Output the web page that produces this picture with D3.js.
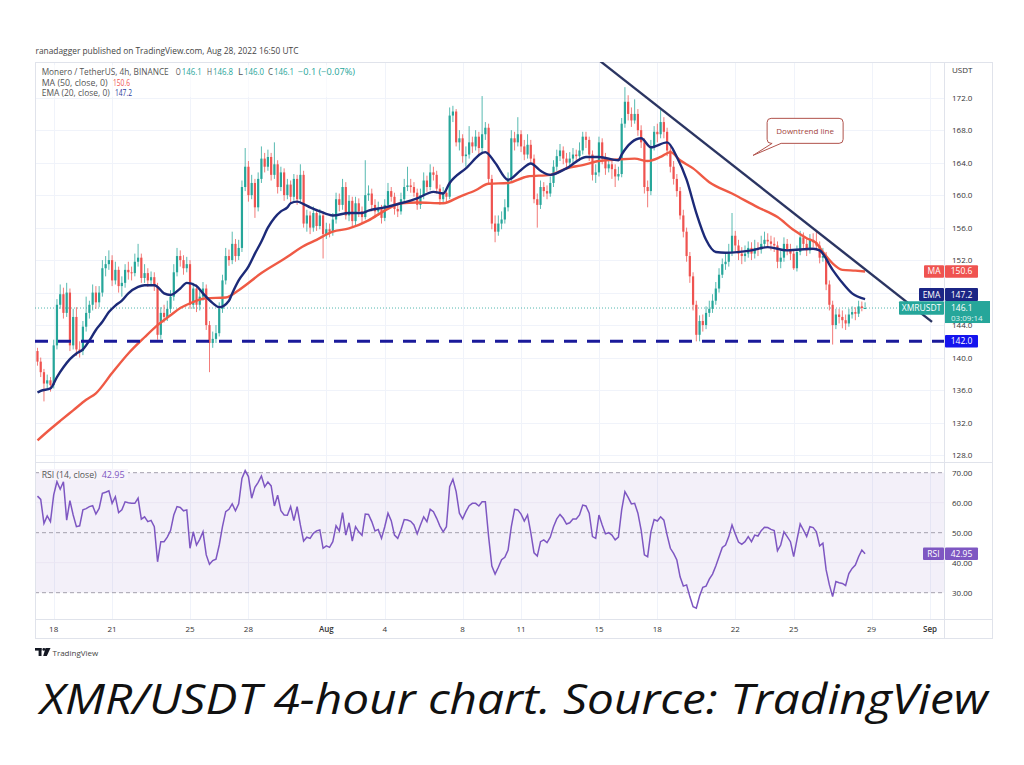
<!DOCTYPE html>
<html><head><meta charset="utf-8">
<script src="https://cdn.jsdelivr.net/npm/d3@7"></script>
<style>body{margin:0;background:#fff;} svg{display:block;font-family:'Open Sans',sans-serif;}</style>
</head><body><svg id="c" width="1024" height="765"></svg>
<script>
// ---------------- DATA ----------------
const startTime = "2022-07-17T04:00:00Z"; // first 4h candle
const candleHours = 4;
const firstOpen = 140.8;
const closes = [139.5,138.2,136.8,137.2,136.6,141.5,146.5,147.8,145.5,148.0,
141.5,145.0,141.0,140.8,143.8,145.5,146.5,148.0,146.8,148.0,
151.0,151.5,152.0,149.5,150.8,148.8,149.2,150.8,150.5,150.4,
151.8,152.3,149.8,150.4,149.5,149.9,148.8,142.8,145.5,145.0,
146.0,147.5,150.5,152.5,152.0,151.0,151.5,146.5,148.5,146.5,
147.5,148.5,144.0,141.8,142.3,143.0,146.0,149.5,152.5,152.0,
154.0,152.5,153.5,161.0,163.5,160.0,161.5,158.5,162.0,164.5,
163.5,164.7,162.5,163.8,161.0,162.8,160.0,161.3,159.8,162.0,
159.5,162.5,156.5,157.5,156.0,157.8,156.2,157.5,155.2,155.8,
155.5,157.0,159.5,158.8,161.0,157.5,159.3,156.8,159.0,158.0,
157.3,160.0,160.2,158.8,158.0,158.3,157.2,158.8,160.5,159.8,
158.3,158.0,159.5,161.0,161.2,161.0,160.3,158.8,160.0,161.8,
161.0,162.8,162.5,160.8,159.5,160.3,159.8,169.8,170.3,166.5,
167.0,164.8,165.0,166.5,166.0,167.2,165.8,167.5,168.3,162.0,
156.5,155.5,156.5,157.0,158.5,162.0,167.0,166.5,167.5,166.0,
165.0,166.2,164.5,159.5,158.8,161.0,160.5,160.2,161.5,163.5,
164.8,165.5,164.5,164.0,164.5,165.0,164.8,165.5,167.2,166.8,
165.0,162.5,162.8,166.5,164.5,163.3,163.8,163.2,162.3,162.6,
168.8,171.5,170.0,169.2,170.0,168.0,166.5,161.0,160.5,166.0,
167.8,167.5,169.0,167.8,165.5,163.5,162.0,160.5,157.5,155.5,
152.5,150.0,146.5,142.8,144.5,144.0,145.5,146.0,147.0,148.5,
150.2,151.5,151.8,153.0,155.0,153.8,152.8,152.5,152.8,153.5,
152.8,153.5,153.3,154.0,154.5,154.3,154.0,153.8,151.8,152.3,
154.0,153.3,152.8,151.0,153.0,154.8,154.0,153.2,154.5,154.2,
153.8,152.3,152.5,149.0,146.5,144.0,145.3,145.0,144.6,144.2,
145.3,145.6,145.4,146.3,146.1,146.1];
const highs = [141.2,140.0,138.6,137.9,137.6,142.2,147.2,149.0,148.6,149.2,
148.5,146.0,146.2,142.0,144.5,147.5,147.0,149.0,148.8,148.8,
152.0,152.5,153.2,152.6,151.8,151.2,150.0,151.5,151.8,151.2,
152.8,154.0,152.8,151.5,151.0,150.6,150.5,149.2,146.2,146.5,
147.0,148.3,151.5,153.5,153.2,152.6,152.4,152.0,149.2,149.0,
148.2,149.3,149.0,144.5,143.2,144.0,146.8,150.2,153.5,153.3,
155.5,154.6,154.5,161.8,165.8,164.2,162.5,162.0,162.8,166.0,
165.2,165.6,165.2,166.5,164.3,163.5,163.3,162.0,161.8,162.6,
162.5,163.8,163.0,158.2,158.0,158.6,158.3,158.3,158.0,156.6,
156.5,157.8,160.3,160.2,162.0,161.6,160.0,159.8,159.8,159.6,
158.6,164.3,161.2,160.8,159.5,159.2,158.8,159.5,161.5,161.0,
160.3,159.0,160.3,162.0,163.5,162.0,161.6,160.8,160.8,162.8,
162.4,163.8,163.5,163.0,161.3,161.0,160.8,170.8,171.0,170.6,
168.0,167.5,166.0,168.5,167.2,168.0,167.8,172.2,169.0,168.8,
162.5,157.5,157.5,158.0,159.5,162.8,168.0,167.8,169.6,168.0,
166.8,167.5,166.8,165.0,160.2,161.8,161.6,161.2,162.3,164.3,
165.6,166.3,166.0,165.2,165.3,165.8,165.6,166.5,167.8,167.8,
167.2,165.5,163.8,167.2,167.0,165.2,164.6,164.5,163.8,163.5,
169.5,173.3,172.3,170.8,171.8,170.6,168.6,167.0,161.8,166.8,
168.5,168.8,170.5,169.6,168.3,166.0,164.2,162.6,161.0,158.2,
156.0,153.0,150.5,147.0,145.2,145.3,146.3,147.0,147.8,149.3,
151.0,152.2,152.8,154.0,157.8,155.6,154.5,153.6,153.8,154.3,
154.2,154.5,154.2,155.0,155.5,155.3,155.0,154.8,154.3,153.2,
154.8,154.6,154.0,153.3,153.8,155.6,155.4,154.6,155.2,155.3,
155.5,154.3,153.5,153.0,149.5,147.0,146.0,146.0,145.8,145.3,
146.0,146.3,146.2,147.0,146.9,146.8];
const lows = [139.0,137.6,134.6,136.2,135.8,136.2,141.0,146.0,144.8,145.0,
140.8,141.0,140.2,140.0,140.3,143.2,144.8,145.8,146.0,146.2,
147.5,150.0,150.8,148.8,149.0,148.0,147.5,148.6,149.6,149.5,
150.0,151.2,149.2,149.2,148.7,148.8,148.2,142.2,142.3,144.3,
144.5,145.5,147.0,150.0,151.2,150.2,150.5,146.0,146.0,145.6,
145.8,147.0,143.4,138.2,141.2,141.8,142.6,145.5,149.0,151.3,
151.5,151.8,152.0,153.0,160.5,159.2,159.5,157.2,158.0,161.5,
162.8,163.0,161.8,162.0,160.2,160.5,159.3,159.5,159.0,159.3,
158.8,159.0,156.0,155.5,155.2,155.5,155.6,155.8,152.2,154.6,
154.8,155.0,156.5,158.0,158.2,157.0,156.8,156.0,156.3,157.3,
156.5,157.0,159.3,158.0,157.2,157.5,156.5,156.8,158.3,159.2,
157.6,157.3,157.6,159.0,160.5,160.3,159.8,158.2,158.3,159.5,
160.4,160.6,161.8,160.2,158.8,159.0,159.0,159.5,169.0,166.0,
165.5,164.0,163.5,164.5,165.2,165.5,165.0,165.3,166.8,161.5,
155.8,154.2,155.0,155.8,156.5,158.0,161.5,165.5,166.0,165.3,
164.3,164.5,164.0,159.0,156.0,158.3,159.8,159.5,159.8,161.0,
163.0,164.2,163.8,163.2,163.5,163.8,164.0,164.2,165.0,165.8,
164.2,161.8,161.5,162.3,163.8,162.5,162.8,162.0,161.0,161.8,
162.2,168.3,169.2,168.4,168.8,167.3,165.8,160.2,158.5,160.0,
165.5,166.5,167.0,167.0,164.8,162.8,161.3,159.8,157.0,154.8,
151.8,149.2,145.8,142.0,142.0,143.2,143.5,145.0,145.5,146.5,
148.0,149.8,150.8,151.2,152.5,153.0,152.0,151.5,151.8,152.3,
152.0,152.2,152.5,152.8,153.5,153.6,153.2,153.0,151.0,151.0,
151.8,152.6,152.0,150.8,150.6,152.6,153.4,152.5,152.8,153.6,
153.2,151.6,151.8,148.3,145.8,141.6,143.5,144.2,143.6,143.4,
143.8,144.8,144.6,145.0,145.7,146.0];
// EMA(20) and MA(50): [candle index, value]
const emaPoints = [[0,135.7],[1,135.9],[4,136.2],[6,137.6],[8,138.8],[10,139.8],[12,140.5],[14,141.0],[16,142.1],[18,143.4],[20,144.4],[22,145.6],[24,146.4],[26,147.0],[28,147.9],[31,148.7],[33,148.9],[36,148.9],[37,148.7],[39,147.9],[41,147.7],[44,148.5],[46,149.2],[49,148.8],[51,147.9],[54,146.7],[56,146.2],[59,147.0],[60,147.9],[62,149.5],[65,151.2],[67,152.8],[69,154.3],[71,156.0],[73,157.2],[75,158.0],[77,158.5],[78,159.0],[80,159.2],[82,158.9],[84,158.5],[87,158.0],[91,157.5],[96,157.8],[100,157.8],[102,158.1],[107,158.5],[112,159.0],[117,159.6],[122,160.4],[125,160.2],[127,161.5],[132,163.3],[138,165.3],[141,164.0],[145,161.9],[149,163.1],[152,163.9],[155,163.0],[158,162.5],[163,163.3],[169,164.7],[173,164.7],[179,164.3],[180,165.0],[186,167.0],[189,165.9],[194,166.5],[197,164.7],[200,161.9],[203,157.8],[206,154.5],[209,153.0],[212,152.9],[220,153.2],[225,153.6],[231,153.2],[239,153.4],[241,153.2],[245,150.8],[248,149.2],[251,147.9],[255,147.2]];
const maPoints = [[0,129.8],[4,131.2],[7,132.2],[11,133.5],[15,134.8],[18,135.6],[23,138.1],[28,140.5],[33,142.5],[37,144.0],[41,145.2],[44,146.1],[46,146.5],[52,147.3],[58,147.4],[62,148.3],[69,150.4],[77,152.4],[81,153.5],[86,154.5],[91,155.5],[96,155.9],[102,156.9],[107,158.1],[112,159.0],[117,159.1],[125,159.0],[130,159.8],[135,160.6],[139,161.4],[145,161.5],[151,162.3],[158,162.5],[163,163.3],[168,163.7],[173,164.2],[179,164.4],[184,164.5],[188,164.2],[192,164.7],[195,165.3],[198,164.3],[202,163.3],[207,161.6],[214,160.2],[222,158.5],[228,157.3],[233,155.7],[237,154.7],[240,154.1],[242,153.0],[245,151.6],[248,150.8],[252,150.7],[255,150.6]];
const rsiValues = [62.2,61.1,53.1,55.6,53.7,62.6,67.0,64.5,67.0,54.2,
60.7,55.9,52.0,52.3,57.6,58.0,58.7,59.0,56.2,58.1,
63.1,63.5,64.0,59.8,62.0,56.7,57.6,60.3,60.0,59.8,
59.8,61.5,54.5,55.3,53.7,54.1,52.0,40.3,47.0,47.0,
48.5,50.7,55.9,58.7,58.4,57.3,57.6,44.8,50.3,45.9,
47.8,50.3,42.6,39.5,40.7,41.2,45.9,52.0,57.0,57.8,
59.6,57.3,59.6,68.1,70.7,68.7,61.5,65.1,66.8,68.9,
65.3,66.9,65.6,58.9,62.5,57.3,55.9,55.8,58.7,54.0,
58.7,52.6,47.2,48.5,48.1,49.8,50.6,50.9,44.8,45.6,
45.1,47.0,52.3,50.6,56.7,49.2,53.3,47.2,52.0,50.3,
49.1,56.2,56.1,53.7,50.6,51.1,48.1,52.0,56.5,54.0,
49.2,48.1,50.9,54.4,54.2,53.8,52.6,49.6,52.6,55.3,
53.7,57.8,57.0,54.8,52.2,50.3,52.0,65.3,67.8,63.7,
56.5,54.6,57.0,59.0,59.8,59.8,58.9,60.3,60.3,48.7,
38.9,36.2,38.5,41.0,41.8,44.2,52.0,57.8,57.6,56.2,
53.9,55.9,50.0,43.3,42.2,47.0,47.6,46.7,48.5,52.0,
54.6,56.1,54.8,52.9,53.3,54.6,54.6,55.9,59.2,58.9,
56.5,48.7,48.1,55.9,52.6,49.6,50.0,49.2,47.6,48.5,
57.6,63.7,61.8,59.6,59.8,56.5,50.9,42.6,42.0,50.3,
54.4,53.9,55.3,54.2,49.2,44.8,43.1,40.9,35.3,32.2,
32.6,28.7,25.3,24.8,28.9,31.8,32.2,34.5,36.2,38.9,
42.0,45.1,45.9,48.7,52.6,49.6,46.9,46.1,47.0,48.7,
47.0,49.2,48.9,50.7,51.8,51.7,51.1,50.7,44.0,45.9,
50.3,48.7,47.0,42.0,47.6,52.9,50.9,48.7,52.0,51.7,
50.3,45.6,46.5,37.6,32.6,28.7,33.7,33.3,33.1,32.4,
36.4,38.1,39.2,42.0,44.2,42.95];
const priceTicks = [172,168,164,160,156,152,148,144,140,136,132,128];
const rsiTicks = [70,60,50,40,30];
const rsiDashedLevels = [70,50,30];
const timeTicks = ["2022-07-18","2022-07-21","2022-07-25","2022-07-28","2022-08-01","2022-08-04","2022-08-08","2022-08-11","2022-08-15","2022-08-18","2022-08-22","2022-08-25","2022-08-29","2022-09-01"];
const timeTickLabels = ["18","21","25","28","Aug","4","8","11","15","18","22","25","29","Sep"];
const supportLevel = 142.0;
const trendLine = [["2022-08-15T01:30:00Z",176.5],["2022-09-01T02:30:00Z",144.4]];
const calloutTip = ["2022-08-22T22:00:00Z",164.9];
const lastMA = 150.6, lastEMA = 147.2, lastPrice = 146.1, lastRSI = 42.95;
const countdown = "03:09:14";

// ---------------- LAYOUT ----------------
const svg = d3.select("#c");
const L = 35, R = 944, RA = 993, T = 62, MB = 462, RB = 619, TB = 639;
const x = d3.scaleUtc().domain([new Date("2022-07-18T00:00:00Z"), new Date("2022-09-01T00:00:00Z")]).range([53.7, 930]);
const y = d3.scaleLinear().domain([128,172]).range([455, 97.7]);
const yr = d3.scaleLinear().domain([30,70]).range([592.7, 472.7]);
const t0 = Date.parse(startTime);
const tAt = i => new Date(t0 + i*candleHours*3600e3);
const candles = closes.map((c,i)=>({t:tAt(i), o: i===0?firstOpen:closes[i-1], c, h:highs[i], l:lows[i]}));

const defs = svg.append("defs");
defs.append("clipPath").attr("id","cm").append("rect").attr("x",L).attr("y",T).attr("width",R-L).attr("height",MB-T);
defs.append("clipPath").attr("id","cr").append("rect").attr("x",L).attr("y",MB).attr("width",R-L).attr("height",RB-MB);

const GRID = "#f0f3fa", BORDER = "#e0e3eb", TXT = "#333";

// header
svg.append("text").attr("x",35.5).attr("y",54).attr("font-size",9).attr("fill","#444")
  .attr("textLength",263).attr("lengthAdjust","spacingAndGlyphs")
  .text("ranadagger published on TradingView.com, Aug 28, 2022 16:50 UTC");

// grids
const g = svg.append("g");
g.selectAll(".hg").data(priceTicks).join("line").attr("x1",L).attr("x2",R)
  .attr("y1",d=>Math.round(y(d))+0.5).attr("y2",d=>Math.round(y(d))+0.5).attr("stroke",GRID);
g.selectAll(".vg").data(timeTicks).join("line")
  .attr("x1",d=>Math.round(x(new Date(d+"T00:00:00Z")))+0.5).attr("x2",d=>Math.round(x(new Date(d+"T00:00:00Z")))+0.5)
  .attr("y1",T).attr("y2",RB).attr("stroke",GRID);
// RSI band
g.append("rect").attr("x",L).attr("width",R-L).attr("y",yr(70)).attr("height",yr(30)-yr(70)).attr("fill","rgba(126,87,194,0.09)");
g.selectAll(".rg").data([60,40]).join("line").attr("x1",L).attr("x2",R)
  .attr("y1",d=>yr(d)).attr("y2",d=>yr(d)).attr("stroke","#ebe6f3");
g.selectAll(".rd").data(rsiDashedLevels).join("line").attr("x1",L).attr("x2",R)
  .attr("y1",d=>yr(d)).attr("y2",d=>yr(d)).attr("stroke","#a3a0ad").attr("stroke-dasharray","4,3");

// frame
svg.append("rect").attr("x",L+0.5).attr("y",T+0.5).attr("width",RA-L-1).attr("height",TB-T-1).attr("fill","none").attr("stroke",BORDER);
svg.append("line").attr("x1",R+0.5).attr("x2",R+0.5).attr("y1",T).attr("y2",TB).attr("stroke",BORDER);
svg.append("line").attr("x1",L).attr("x2",RA).attr("y1",MB+0.5).attr("y2",MB+0.5).attr("stroke",BORDER);
svg.append("line").attr("x1",L).attr("x2",RA).attr("y1",RB+0.5).attr("y2",RB+0.5).attr("stroke",BORDER);

// main pane
const mp = svg.append("g").attr("clip-path","url(#cm)");
const UP = "#26a69a", DN = "#ef5350";
mp.append("line").attr("x1",L).attr("x2",R).attr("y1",y(lastPrice)).attr("y2",y(lastPrice))
  .attr("stroke",UP).attr("stroke-width",0.8).attr("stroke-dasharray","1,2");
const cg = mp.selectAll(".cd").data(candles).join("g");
cg.append("line").attr("x1",d=>x(d.t)).attr("x2",d=>x(d.t)).attr("y1",d=>y(d.h)).attr("y2",d=>y(d.l))
  .attr("stroke",d=>d.c>=d.o?UP:DN).attr("stroke-width",0.9).attr("opacity",0.85);
cg.append("rect").attr("x",d=>x(d.t)-1.1).attr("width",2.2)
  .attr("y",d=>y(Math.max(d.o,d.c))).attr("height",d=>Math.max(1,Math.abs(y(d.o)-y(d.c))))
  .attr("fill",d=>d.c>=d.o?UP:DN);
const lineGen = d3.line().x(d=>x(tAt(d[0]))).y(d=>y(d[1])).curve(d3.curveMonotoneX);
mp.append("path").attr("d",lineGen(maPoints)).attr("fill","none").attr("stroke","#ef5a45").attr("stroke-width",2.4);
mp.append("path").attr("d",lineGen(emaPoints)).attr("fill","none").attr("stroke","#1c2a78").attr("stroke-width",2.4);
mp.append("line").attr("x1",L).attr("x2",R).attr("y1",y(supportLevel)).attr("y2",y(supportLevel))
  .attr("stroke","#1a1a9a").attr("stroke-width",3).attr("stroke-dasharray","13,10");
mp.append("line")
  .attr("x1",x(new Date(trendLine[0][0]))).attr("y1",y(trendLine[0][1]))
  .attr("x2",x(new Date(trendLine[1][0]))).attr("y2",y(trendLine[1][1]))
  .attr("stroke","#2b3562").attr("stroke-width",2.4);

// callout
{
  const tx = x(new Date(calloutTip[0])), ty = y(calloutTip[1]);
  const bl = tx+14, br = tx+90, bt = ty-37, bb = ty-12, r = 4;
  const p = `M${bl+r},${bt} H${br-r} A${r},${r} 0 0 1 ${br},${bt+r} V${bb-r} A${r},${r} 0 0 1 ${br-r},${bb} H${bl+14} L${tx},${ty} L${bl+5},${bb} H${bl+r} A${r},${r} 0 0 1 ${bl},${bb-r} V${bt+r} A${r},${r} 0 0 1 ${bl+r},${bt} Z`;
  svg.append("path").attr("d",p).attr("fill","#fff").attr("stroke","#b0524b").attr("stroke-width",1);
  svg.append("text").attr("x",(bl+br)/2).attr("y",(bt+bb)/2+3).attr("text-anchor","middle")
    .attr("font-size",8).attr("fill","#a2433c").text("Downtrend line");
}

// RSI pane
const rp = svg.append("g").attr("clip-path","url(#cr)");
rp.append("path").attr("d",d3.line().x((d,i)=>x(tAt(i))).y(d=>yr(d))(rsiValues))
  .attr("fill","none").attr("stroke","#7e57c2").attr("stroke-width",1.5);

// legend
const leg = svg.append("g").attr("font-size",8.5);
function seg(parent, xx, yy, w, txt, col){ parent.append("text").attr("x",xx).attr("y",yy).attr("fill",col)
  .attr("textLength",w).attr("lengthAdjust","spacingAndGlyphs").text(txt); }
leg.append("rect").attr("x",40).attr("y",65).attr("width",318).attr("height",32).attr("fill","rgba(255,255,255,0.6)");
seg(leg,41.7,74.6,127,"Monero / TetherUS, 4h, BINANCE","#555");
const ohlc = [["O",candles[255].o,175.7],["H",highs[255],207],["L",lows[255],238],["C",closes[255],268]];
ohlc.forEach(([k,v,xx])=>{ seg(leg,xx,74.6,5,k,"#555"); seg(leg,xx+6,74.6,20,v.toFixed(1),UP); });
seg(leg,298,74.6,57,"−0.1 (−0.07%)",UP);
seg(leg,41.7,85.6,66,"MA (50, close, 0)","#555"); seg(leg,113,85.6,17,lastMA.toFixed(1),DN);
seg(leg,41.7,95.6,68,"EMA (20, close, 0)","#555"); seg(leg,115,95.6,17,lastEMA.toFixed(1),"#2a3a9a");
// RSI legend
const rl = svg.append("g").attr("font-size",8.5);
rl.append("rect").attr("x",40).attr("y",469).attr("width",88).attr("height",11).attr("fill","#f7f4fb");
seg(rl,41.7,478,55,"RSI (14, close)","#555"); seg(rl,101.7,478,23,lastRSI.toFixed(2),"#7e57c2");

// axes labels
const ax = svg.append("g").attr("font-size",8).attr("fill",TXT);
ax.append("text").attr("x",952).attr("y",72.5).text("USDT");
ax.selectAll(".pl").data(priceTicks).join("text").attr("x",952).attr("y",d=>y(d)+3).text(d=>d.toFixed(1));
ax.selectAll(".rl").data(rsiTicks).join("text").attr("x",952).attr("y",d=>yr(d)+3).text(d=>d.toFixed(2));
ax.selectAll(".tl").data(timeTicks).join("text").attr("x",d=>x(new Date(d+"T00:00:00Z"))).attr("y",632)
  .attr("text-anchor","middle").attr("font-weight",(d,i)=>/[A-Za-z]/.test(timeTickLabels[i])?600:400)
  .text((d,i)=>timeTickLabels[i]);

// tags
function tag(xl, yc, w, h, fill, txt, fs){
  svg.append("rect").attr("x",xl).attr("y",yc-h/2).attr("width",w).attr("height",h).attr("fill",fill).attr("rx",1);
  svg.append("text").attr("x",xl+w/2).attr("y",yc+3).attr("text-anchor","middle").attr("font-size",fs||8.5)
    .attr("fill","#fff").text(txt);
}
const yMA = y(lastMA), yP = y(lastPrice), yS = y(supportLevel), yR = yr(lastRSI);
const pBoxTop = yP - 7, yE = pBoxTop - 6.5;
tag(924, yMA, 20, 12.5, DN, "MA"); tag(945, yMA, 33, 12.5, DN, lastMA.toFixed(1));
tag(919, yE, 25, 13, "#1b2585", "EMA"); tag(945, yE, 33, 13, "#1b2585", lastEMA.toFixed(1));
tag(899, yP, 45, 13.5, UP, "XMRUSDT");
svg.append("rect").attr("x",945).attr("y",pBoxTop).attr("width",45).attr("height",22).attr("fill",UP);
svg.append("text").attr("x",951).attr("y",yP+3).attr("font-size",8.5).attr("fill","#fff").text(lastPrice.toFixed(1));
svg.append("text").attr("x",951).attr("y",yP+13).attr("font-size",8).attr("fill","#dff3f0").text(countdown);
tag(945, yS, 33, 12.5, "#1414ee", supportLevel.toFixed(1));
tag(923, yR, 21, 12.5, "#7e57c2", "RSI"); tag(945, yR, 33, 12.5, "#7e57c2", lastRSI.toFixed(2));

// TradingView logo
const lg = svg.append("g").attr("fill","#131722");
lg.append("rect").attr("x",35).attr("y",648).attr("width",6.5).attr("height",2.6);
lg.append("rect").attr("x",38.6).attr("y",648).attr("width",2.9).attr("height",8);
lg.append("circle").attr("cx",43.8).attr("cy",649.4).attr("r",1.4);
lg.append("path").attr("d","M45.5,648 H50.5 L46.8,656 H43.2 Z");
svg.append("text").attr("x",52.5).attr("y",655.5).attr("font-size",8).attr("fill","#444").text("TradingView");

// caption
svg.append("text").attr("x",514).attr("y",714).attr("text-anchor","middle").attr("font-size",42)
  .attr("font-style","italic").attr("fill","#111").attr("textLength",948).attr("lengthAdjust","spacingAndGlyphs")
  .text("XMR/USDT 4-hour chart. Source: TradingView");
</script></body></html>
